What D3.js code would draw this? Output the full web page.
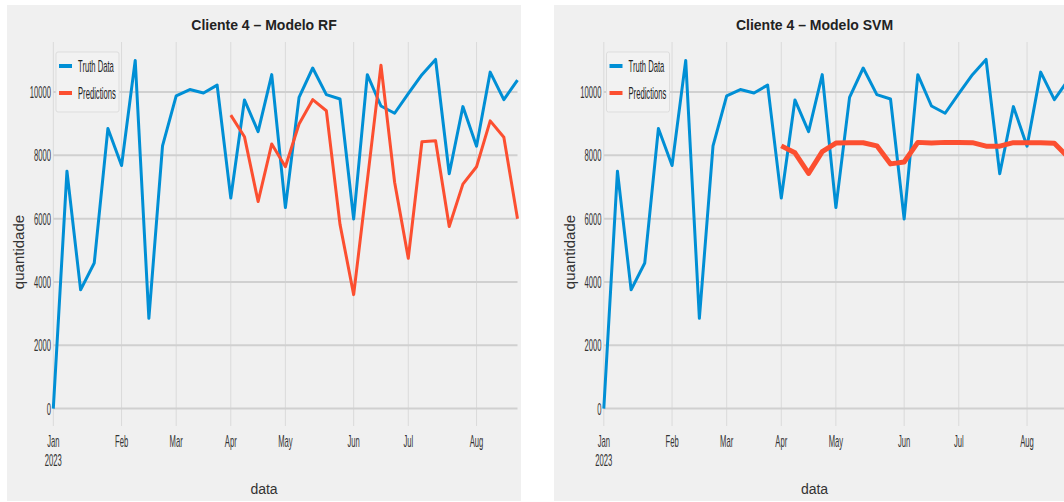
<!DOCTYPE html>
<html>
<head>
<meta charset="utf-8">
<script src="https://cdn.jsdelivr.net/npm/d3@7"></script>
<style>
  html, body { margin: 0; padding: 0; background: #ffffff; }
  svg { display: block; }
</style>
</head>
<body>
<svg id="chart" width="1064" height="502"></svg>
<script>
// ---- data ----
const weeks = [
  "2023-01-02","2023-01-09","2023-01-16","2023-01-23","2023-01-30",
  "2023-02-06","2023-02-13","2023-02-20","2023-02-27",
  "2023-03-06","2023-03-13","2023-03-20","2023-03-27",
  "2023-04-03","2023-04-10","2023-04-17","2023-04-24",
  "2023-05-01","2023-05-08","2023-05-15","2023-05-22","2023-05-29",
  "2023-06-05","2023-06-12","2023-06-19","2023-06-26",
  "2023-07-03","2023-07-10","2023-07-17","2023-07-24","2023-07-31",
  "2023-08-07","2023-08-14","2023-08-21","2023-08-28"
];
const truthData = [
  0, 7500, 3750, 4600, 8850, 7680, 11000, 2850, 8300, 9880,
  10080, 9970, 10220, 6650, 9750, 8750, 10550, 6350, 9830, 10760,
  9920, 9780, 5990, 10550, 9560, 9330, 9950, 10550, 11030, 7420,
  9540, 8290, 10630, 9760, 10380
];
const predStart = 13;
const predRF = [
  9270, 8590, 6540, 8360, 7640, 8990, 9760, 9410, 5820, 3600,
  7200, 10850, 7150, 4750, 8430, 8460, 5750, 7090, 7640, 9090,
  8570, 6000
];
const predSVM = [
  8300, 8080, 7430, 8120, 8390, 8400, 8400, 8300, 7730, 7790,
  8410, 8390, 8410, 8410, 8400, 8290, 8290, 8400, 8400, 8400,
  8380, 7950
];
const monthTicks = ["2023-01-02","2023-02-06","2023-03-06","2023-04-03","2023-05-01","2023-06-05","2023-07-03","2023-08-07"];
const monthLabels = ["Jan","Feb","Mar","Apr","May","Jun","Jul","Aug"];
const yTicks = [0, 2000, 4000, 6000, 8000, 10000];
const titles = ["Cliente 4 \u2013 Modelo RF", "Cliente 4 \u2013 Modelo SVM"];
const legendLabels = ["Truth Data", "Predictions"];

// ---- styles ----
const BLUE = "#008fd5", RED = "#fc4f30", BG = "#f0f0f0";
const FONT = "Liberation Sans, Arial, sans-serif";
const TICK_SIZE = 17, SQUEEZE = 0.45;
const parse = d3.timeParse("%Y-%m-%d");
const dates = weeks.map(parse);
const tickDates = monthTicks.map(parse);

const svg = d3.select("#chart");

const allVals = truthData.concat(predRF, predSVM);
const ymax = d3.max(allVals), ymin = d3.min(allVals);
const pad = (ymax - ymin) * 0.05;

function panel(ox, panelLeft, title, preds, predWidth) {
  const g = svg.append("g").attr("transform", `translate(${ox},0)`);
  g.append("rect").attr("x", panelLeft).attr("y", 5).attr("width", 521 - panelLeft).attr("height", 496).attr("fill", BG);

  const x = d3.scaleTime().domain(d3.extent(dates)).range([53.3, 517.5]);
  const y = d3.scaleLinear().domain([ymin - pad, ymax + pad]).range([426, 42]);

  // grid
  g.append("g").selectAll("line").data(tickDates).join("line")
    .attr("x1", d => x(d)).attr("x2", d => x(d))
    .attr("y1", 42).attr("y2", 426)
    .attr("stroke", "#dadada").attr("stroke-width", 1);
  g.append("g").selectAll("line").data(yTicks).join("line")
    .attr("x1", 53.3).attr("x2", 517.5)
    .attr("y1", d => y(d)).attr("y2", d => y(d))
    .attr("stroke", "#d0d0d0").attr("stroke-width", 2);

  // y tick labels
  g.append("g").selectAll("text").data(yTicks).join("text")
    .attr("transform", d => `translate(51,${y(d) + 6}) scale(${SQUEEZE},1)`)
    .attr("text-anchor", "end")
    .attr("font-family", FONT)
    .attr("font-size", TICK_SIZE).attr("fill", "#333")
    .text(d => d);

  // x tick labels
  const xt = g.append("g").selectAll("g").data(tickDates).join("g")
    .attr("transform", d => `translate(${x(d)},0)`);
  xt.append("text")
    .attr("transform", `translate(0,447) scale(${SQUEEZE},1)`)
    .attr("text-anchor", "middle")
    .attr("font-family", FONT)
    .attr("font-size", TICK_SIZE).attr("fill", "#333")
    .text((d, i) => monthLabels[i]);
  xt.filter((d, i) => i === 0).append("text")
    .attr("transform", `translate(0,466) scale(${SQUEEZE},1)`)
    .attr("text-anchor", "middle")
    .attr("font-family", FONT)
    .attr("font-size", TICK_SIZE).attr("fill", "#333")
    .text(d3.timeFormat("%Y")(tickDates[0]));

  // lines
  const line = d3.line().x(d => x(d[0])).y(d => y(d[1]));
  const truthPts = dates.map((d, i) => [d, truthData[i]]);
  const predPts = preds.map((v, i) => [dates[predStart + i], v]);
  g.append("path").datum(truthPts).attr("d", line)
    .attr("fill", "none").attr("stroke", BLUE).attr("stroke-width", 3)
    .attr("stroke-linejoin", "round");
  g.append("path").datum(predPts).attr("d", line)
    .attr("fill", "none").attr("stroke", RED).attr("stroke-width", predWidth)
    .attr("stroke-linejoin", "round");

  // title
  g.append("text").attr("x", 264).attr("y", 30).attr("text-anchor", "middle")
    .attr("font-family", FONT)
    .attr("font-weight", "bold").attr("font-size", 14).attr("fill", "#222")
    .text(title);

  // axis labels
  g.append("text").attr("x", 264).attr("y", 494).attr("text-anchor", "middle")
    .attr("font-family", FONT)
    .attr("font-size", 14).attr("fill", "#333").text("data");
  g.append("text").attr("transform", "translate(24,252) rotate(-90)")
    .attr("text-anchor", "middle")
    .attr("font-family", FONT)
    .attr("font-size", 15).attr("fill", "#333").text("quantidade");

  // legend
  const lg = g.append("g");
  lg.append("rect").attr("x", 56).attr("y", 52).attr("width", 63).attr("height", 60)
    .attr("rx", 2).attr("fill", "#f2f2f2").attr("stroke", "#dddddd").attr("stroke-width", 1);
  const colors = [BLUE, RED];
  legendLabels.forEach((lab, i) => {
    const yy = 66 + i * 27;
    lg.append("line").attr("x1", 59).attr("x2", 72).attr("y1", yy).attr("y2", yy)
      .attr("stroke", colors[i]).attr("stroke-width", 4);
    lg.append("text").attr("transform", `translate(78,${yy + 6}) scale(${SQUEEZE},1)`)
      .attr("font-family", FONT)
      .attr("font-size", TICK_SIZE).attr("fill", "#222").text(lab);
  });
}

panel(0, 7, titles[0], predRF, 3);
panel(550.5, 3.5, titles[1], predSVM, 5);
</script>
</body>
</html>
